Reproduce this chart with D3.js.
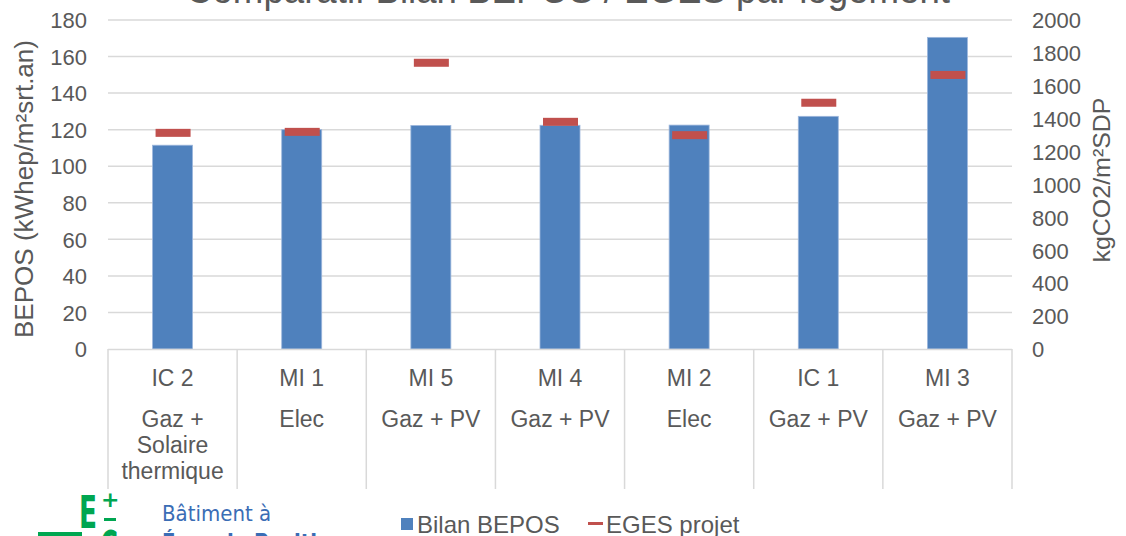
<!DOCTYPE html>
<html><head><meta charset="utf-8">
<script src="https://cdn.jsdelivr.net/npm/d3@7"></script>
<style>body{margin:0;background:#fff;} svg{display:block;font-family:"Liberation Sans",Arial,sans-serif;}</style>
</head><body>
<svg id="c" width="1126" height="536"></svg>
<script>
const categories = ["IC 2","MI 1","MI 5","MI 4","MI 2","IC 1","MI 3"];
const energies = [["Gaz +","Solaire","thermique"],["Elec"],["Gaz + PV"],["Gaz + PV"],["Elec"],["Gaz + PV"],["Gaz + PV"]];
const bilanBepos = [111.5, 120, 122.3, 122.4, 122.5, 127.3, 170.5];
const egesProjet = [1314, 1320, 1740, 1381, 1300, 1497, 1666];
const leftTicks = [0,20,40,60,80,100,120,140,160,180];
const rightTicks = [0,200,400,600,800,1000,1200,1400,1600,1800,2000];

const svg = d3.select("#c");
const X0 = 108, X1 = 1012, Y0 = 349, Y1 = 20;
const x = d3.scaleBand().domain(categories).range([X0, X1]).padding(0);
const yL = d3.scaleLinear().domain([0,180]).range([Y0, Y1]);
const yR = d3.scaleLinear().domain([0,2000]).range([Y0, Y1]);
const txt = "#595959";

// title (cut off at top)
svg.append("text").attr("x", 186).attr("y", 3).attr("font-size", 38).attr("fill", txt)
  .attr("textLength", 764).attr("lengthAdjust","spacingAndGlyphs")
  .text("Comparatif Bilan BEPOS / EGES par logement");

// gridlines
svg.append("g").selectAll("line").data(leftTicks.filter(d=>d>0)).join("line")
  .attr("x1", X0).attr("x2", X1).attr("y1", d=>yL(d)).attr("y2", d=>yL(d))
  .attr("stroke", "#d9d9d9").attr("stroke-width", 1.5);

// left axis
const gl = svg.append("g").attr("transform", `translate(${X0},0)`)
  .call(d3.axisLeft(yL).tickValues(leftTicks).tickSize(0).tickPadding(21));
gl.select(".domain").remove();
gl.selectAll("text").attr("font-size", 22).attr("fill", txt).attr("font-family","Liberation Sans, Arial").attr("dy","0.35em");

// right axis
const gr = svg.append("g").attr("transform", `translate(${X1},0)`)
  .call(d3.axisRight(yR).tickValues(rightTicks).tickFormat(d3.format("d")).tickSize(0).tickPadding(20));
gr.select(".domain").remove();
gr.selectAll("text").attr("font-size", 22).attr("fill", txt).attr("font-family","Liberation Sans, Arial").attr("dy","0.35em");

// axis titles
svg.append("text").attr("transform", "translate(33,189) rotate(-90)").attr("text-anchor","middle")
  .attr("fill", txt).attr("textLength", 298).attr("lengthAdjust","spacingAndGlyphs")
  .style("font-size","25px").text("BEPOS (kWhep/m²srt.an)");
svg.append("text").attr("transform", "translate(1110,180) rotate(-90)").attr("text-anchor","middle")
  .attr("font-size", 24).attr("fill", txt).attr("textLength", 165).attr("lengthAdjust","spacingAndGlyphs")
  .text("kgCO2/m²SDP");

// bars
const bw = 40;
svg.append("g").selectAll("rect").data(categories).join("rect")
  .attr("x", (d)=>x(d)+x.bandwidth()/2-bw/2)
  .attr("width", bw)
  .attr("y", (d,i)=>yL(bilanBepos[i]))
  .attr("height", (d,i)=>Y0-yL(bilanBepos[i]))
  .attr("fill", "#4f81bd").attr("stroke","#9db7dc").attr("stroke-width",0.8);

// category axis line and separators
svg.append("line").attr("x1", X0).attr("x2", X1).attr("y1", Y0+0.5).attr("y2", Y0+0.5)
  .attr("stroke", "#d9d9d9").attr("stroke-width", 1.5);
const bounds = categories.map(c=>x(c)).concat([X1]);
svg.append("g").selectAll("line").data(bounds).join("line")
  .attr("x1", d=>d).attr("x2", d=>d).attr("y1", Y0).attr("y2", 489)
  .attr("stroke", "#d9d9d9").attr("stroke-width", 1.5);

// EGES markers
const mw = 35, mh = 8;
svg.append("g").selectAll("rect").data(categories).join("rect")
  .attr("x", d=>x(d)+x.bandwidth()/2-mw/2+0.5)
  .attr("width", mw)
  .attr("y", (d,i)=>yR(egesProjet[i])-mh/2)
  .attr("height", mh).attr("fill", "#c0504d");

// category labels
const cg = svg.append("g").attr("font-size", 23).attr("fill", txt).attr("text-anchor","middle");
categories.forEach((c,i)=>{
  const cx = x(c)+x.bandwidth()/2;
  cg.append("text").attr("x", cx).attr("y", 386).text(c);
  energies[i].forEach((t,j)=>{
    cg.append("text").attr("x", cx).attr("y", 427 + j*26).text(t);
  });
});

// legend
const lg = svg.append("g").attr("font-size", 24).attr("fill", txt);
lg.append("rect").attr("x", 401).attr("y", 518).attr("width", 12).attr("height", 12).attr("fill","#4f81bd");
lg.append("text").attr("x", 417).attr("y", 533).text("Bilan BEPOS");
lg.append("rect").attr("x", 588).attr("y", 522).attr("width", 15).attr("height", 3).attr("fill","#c0504d");
lg.append("text").attr("x", 606).attr("y", 533).text("EGES projet");

// logo (cut off at bottom)
const logo = svg.append("g");
logo.append("rect").attr("x", 38).attr("y", 532).attr("width", 44).attr("height", 4).attr("fill","#00a651");
logo.append("text").attr("x", 79).attr("y", 528).attr("font-size", 44).attr("font-weight","bold")
  .attr("textLength", 18).attr("lengthAdjust","spacingAndGlyphs")
  .attr("font-family","Liberation Sans Narrow, DejaVu Sans Condensed, sans-serif").attr("fill","#00a651").text("E");
logo.append("text").attr("x", 101).attr("y", 507).attr("font-size", 22).attr("font-weight","bold")
  .attr("font-family","DejaVu Sans, sans-serif").attr("fill","#00a651").text("+");
logo.append("text").attr("x", 100).attr("y", 563).attr("font-size", 44).attr("font-weight","bold")
  .attr("textLength", 18).attr("lengthAdjust","spacingAndGlyphs")
  .attr("font-family","Liberation Sans Narrow, DejaVu Sans Condensed, sans-serif").attr("fill","#00a651").text("C");
logo.append("rect").attr("x", 104).attr("y", 518).attr("width", 12).attr("height", 3).attr("fill","#00a651");
logo.append("text").attr("x", 162).attr("y", 521).attr("font-size", 22)
  .attr("font-family","Liberation Sans Narrow, DejaVu Sans Condensed, sans-serif").attr("fill","#3a6db5").text("Bâtiment à");
logo.append("text").attr("x", 162).attr("y", 549).attr("font-size", 22).attr("font-weight","bold")
  .attr("font-family","Liberation Sans Narrow, DejaVu Sans Condensed, sans-serif").attr("fill","#3a6db5").text("Énergie Positive");
</script>
</body></html>
